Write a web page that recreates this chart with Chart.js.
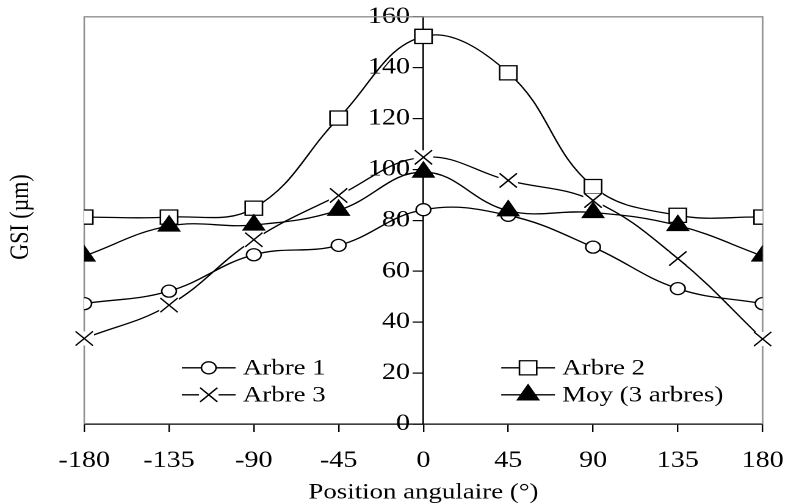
<!DOCTYPE html>
<html>
<head>
<meta charset="utf-8">
<script src="https://cdn.jsdelivr.net/npm/chart.js@4.4.1/dist/chart.umd.min.js"></script>
<style>
html,body{margin:0;padding:0;background:#fff;overflow:hidden;width:802px;height:504px;}
#wrap{position:absolute;left:0;top:0;width:657px;height:504px;transform:scaleX(1.2207);transform-origin:0 0;}
</style>
</head>
<body>
<div id="wrap"><canvas id="c"></canvas></div>
<script>
// ---- data ----
const angles = [-180, -135, -90, -45, 0, 45, 90, 135, 180];
const arbre1 = [47.3, 52.2, 66.5, 70.2, 84.2, 82.0, 69.5, 53.2, 47.3];
const arbre2 = [81.3, 81.3, 84.8, 120.2, 152.3, 138.0, 93.3, 82.0, 81.3];
const arbre3 = [33.6, 46.7, 72.4, 89.8, 104.8, 95.7, 87.8, 65.0, 33.4];
const moyenne = [66.0, 77.8, 78.2, 84.0, 99.0, 83.8, 83.1, 78.0, 66.0];
const seriesNames = ['Arbre 1', 'Arbre 2', 'Arbre 3', 'Moy (3 arbres)'];
const xTickValues = [-180, -135, -90, -45, 0, 45, 90, 135, 180];
const yTickValues = [0, 20, 40, 60, 80, 100, 120, 140, 160];
const xTitle = 'Position angulaire (°)';
const yTitle = 'GSI (µm)';

const FONT = "'Liberation Serif', 'Times New Roman', serif";
const toPts = arr => angles.map((a, i) => ({x: a, y: arr[i]}));

function mkDs(label, values, style, radius, fill, order) {
  return {
    label, data: toPts(values), order,
    borderColor: '#000', borderWidth: 1.3, tension: 0.4, fill: false,
    pointStyle: style, pointRadius: radius, pointHoverRadius: radius,
    pointBackgroundColor: fill, pointBorderColor: '#000', pointBorderWidth: 1.3
  };
}
const datasets = [
  mkDs(seriesNames[0], arbre1, 'circle', 6, '#fff', 4),
  mkDs(seriesNames[1], arbre2, 'rect', 10, '#fff', 3),
  mkDs(seriesNames[2], arbre3, 'crossRot', 10, '#fff', 2),
  mkDs(seriesNames[3], moyenne, 'triangle', 10, '#000', 1)
];
const GAP_SERIES = seriesNames[2];

function drawMarker(ctx, ds, x, y) {
  const o = {pointStyle: ds.pointStyle, radius: ds.pointRadius, rotation: 0, borderWidth: ds.pointBorderWidth};
  ctx.fillStyle = ds.pointBackgroundColor;
  ctx.strokeStyle = ds.pointBorderColor;
  ctx.lineWidth = ds.pointBorderWidth;
  Chart.helpers.drawPoint(ctx, o, x, y);
}

// move the y tick labels to the left of the centred axis (tick length + gap)
const yLabelShift = {
  id: 'yLabelShift',
  beforeDraw(chart) {
    const s = chart.scales.y;
    const items = s.getLabelItems(chart.chartArea);
    if (!items._shifted) {
      items.forEach(it => { it.options.translation[0] -= 11; });
      items._shifted = true;
    }
  }
};

const framePlugin = {
  id: 'frame',
  beforeDatasetsDraw(chart) {
    const {ctx, chartArea: a} = chart;
    ctx.save();
    ctx.strokeStyle = '#8f8f8f';
    ctx.lineWidth = 1.3;
    ctx.beginPath();
    ctx.moveTo(a.left, a.bottom);
    ctx.lineTo(a.left, a.top);
    ctx.lineTo(a.right, a.top);
    ctx.lineTo(a.right, a.bottom);
    ctx.stroke();
    ctx.restore();
  }
};

const gapPlugin = {
  id: 'xgap',
  afterDatasetDraw(chart, args) {
    const ds = chart.data.datasets[args.index];
    if (ds.label !== GAP_SERIES) return;
    const ctx = chart.ctx;
    ctx.save();
    ctx.fillStyle = '#fff';
    args.meta.data.forEach(p => ctx.fillRect(p.x - 8, p.y - 7, 16, 14));
    args.meta.data.forEach(p => p.draw(ctx, chart.chartArea));
    ctx.restore();
  }
};

const legendPlugin = {
  id: 'customLegend',
  afterDraw(chart) {
    const ctx = chart.ctx;
    const a = chart.chartArea;
    const cols = [a.left + 80, a.left + 341.6];
    const rows = [a.top + 351, a.top + 378];
    const layout = [[0, 0], [1, 0], [0, 1], [1, 1]];
    chart.data.datasets.forEach((ds, i) => {
      const x0 = cols[layout[i][0]];
      const y = rows[layout[i][1]];
      const x1 = x0 + 44;
      const mx = (x0 + x1) / 2;
      ctx.save();
      ctx.strokeStyle = '#000';
      ctx.lineWidth = 1.3;
      ctx.beginPath(); ctx.moveTo(x0, y); ctx.lineTo(x1, y); ctx.stroke();
      if (ds.label === GAP_SERIES) { ctx.fillStyle = '#fff'; ctx.fillRect(mx - 8, y - 7, 16, 14); }
      drawMarker(ctx, ds, mx, y);
      ctx.fillStyle = '#000';
      ctx.font = '22px ' + FONT;
      ctx.textAlign = 'left';
      ctx.textBaseline = 'middle';
      ctx.fillText(ds.label, x1 + 6, y + 1);
      ctx.restore();
    });
  }
};

const yTitlePlugin = {
  id: 'yTitle',
  afterDraw(chart) {
    const ctx = chart.ctx;
    ctx.save();
    ctx.translate(17, 217);
    ctx.rotate(-Math.PI / 2);
    ctx.fillStyle = '#000';
    ctx.font = '22px ' + FONT;
    ctx.textAlign = 'center';
    ctx.textBaseline = 'middle';
    ctx.fillText(yTitle, 0, 0);
    ctx.restore();
  }
};

new Chart(document.getElementById('c'), {
  type: 'line',
  data: {datasets},
  plugins: [yLabelShift, framePlugin, gapPlugin, legendPlugin, yTitlePlugin],
  options: {
    responsive: true,
    maintainAspectRatio: false,
    devicePixelRatio: 2,
    animation: false,
    layout: {padding: {left: 69, right: 19, top: 16, bottom: 0}},
    plugins: {legend: {display: false}, tooltip: {enabled: false}},
    scales: {
      x: {
        type: 'linear', min: -180, max: 180, position: 'bottom',
        afterBuildTicks: s => { s.ticks = xTickValues.map(v => ({value: v})); },
        ticks: {font: {family: FONT, size: 23}, color: '#000', padding: 15, maxRotation: 0, autoSkip: false},
        grid: {drawOnChartArea: false, drawTicks: true, tickLength: 8, color: '#000', lineWidth: 1.2},
        border: {display: true, color: '#000', width: 1.3},
        title: {display: true, text: xTitle, font: {family: FONT, size: 22, lineHeight: '6px'}, color: '#000', padding: {top: 0, bottom: 8.4}}
      },
      y: {
        type: 'linear', min: 0, max: 160, position: {x: 0},
        afterBuildTicks: s => { s.ticks = yTickValues.map(v => ({value: v})); },
        ticks: {font: {family: FONT, size: 23}, color: '#000', padding: 3},
        grid: {drawOnChartArea: false, drawTicks: true, tickLength: 8, color: '#000', lineWidth: 1.2},
        border: {display: true, color: '#000', width: 1.3}
      }
    }
  }
});
</script>
</body>
</html>
